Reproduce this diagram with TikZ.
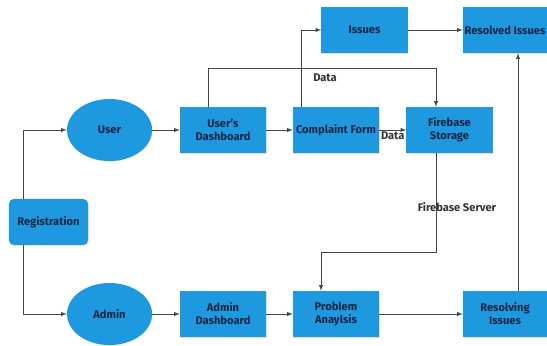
\documentclass[tikz,border=0pt]{standalone}
\usepackage{fontspec}
\setmainfont{Fira Sans}
\usepackage{xcolor}
\usepackage{tikz}
\usetikzlibrary{shapes.geometric, arrows, shadows}
\definecolor{flowblue}{RGB}{30,152,222}
\definecolor{flowtext}{RGB}{20,38,70}
\definecolor{flowline}{RGB}{70,70,70}

\tikzset{
  base/.style={fill=flowblue, text=flowtext, font=\bfseries\fontsize{9.5}{11}\selectfont,
               align=center, inner sep=0pt,
               drop shadow={opacity=0.25, shadow xshift=0.5pt, shadow yshift=-0.5pt}},
  boxnode/.style={base, rectangle, minimum width=2.58cm, minimum height=1.38cm},
  regnode/.style={base, rectangle, rounded corners=4pt, minimum width=2.37cm, minimum height=1.38cm},
  ovalnode/.style={base, ellipse, minimum width=2.55cm, minimum height=1.86cm},
  link/.style={->, >=latex, flowline, line width=0.7pt},
  linklabel/.style={text=black!80, font=\bfseries\fontsize{9.5}{10}\selectfont, inner sep=1pt}
}

\begin{document}
\begin{tikzpicture}[x=0.03cm, y=-0.03cm]
    \useasboundingbox (0,0) rectangle (547,346);
    % user side
    \node[regnode]  (reg)       at (48.5,222) {Registration};
    \node[ovalnode] (user)      at (109.5,130) {User};
    \node[boxnode]  (udash)     at (223,130) {User's\\Dashboard};
    \node[boxnode]  (cform)     at (336,130) {Complaint Form};
    \node[boxnode]  (fstore)    at (449.5,130) {Firebase\\Storage};
    \node[boxnode]  (issues)    at (364.5,30) {Issues};
    \node[boxnode, minimum width=2.52cm] (resolved) at (505,30) {Resolved Issues};
    % admin side
    \node[ovalnode] (admin)     at (109.5,314) {Admin};
    \node[boxnode]  (adash)     at (223,314) {Admin\\Dashboard};
    \node[boxnode]  (panal)     at (336,314) {Problem\\Anaylsis};
    \node[boxnode, minimum width=2.52cm] (resolving) at (505,314) {Resolving\\Issues};

    \draw[link] ([xshift=0.45cm]reg.north west) |- (user.west);
    \draw[link] ([xshift=0.45cm]reg.south west) |- (admin.west);
    \draw[link] (user) -- (udash);
    \draw[link] (udash) -- (cform);
    \draw[link] (cform) -- (fstore) node[midway, below, linklabel] {Data};
    \draw[link] ([xshift=-0.45cm]udash.north) -- ++(0,-38) -| ([xshift=-0.405cm]fstore.north);
    \node[linklabel] (topdata) at (325,78) {Data};
    \draw[link] ([xshift=-1.05cm]cform.north) |- (issues.west);
    \draw[link] (issues) -- (resolved);
    \draw[link] ([xshift=-0.405cm]fstore.south) -- ++(0,99) -| ([xshift=-0.45cm]panal.north);
    \node[linklabel] (server) at (457,207) {Firebase Server};
    \draw[link] (admin) -- (adash);
    \draw[link] (adash) -- (panal);
    \draw[link] (panal) -- (resolving);
    \draw[link] ([xshift=0.39cm]resolving.north) -- ([xshift=0.39cm]resolved.south);
\end{tikzpicture}
\end{document}
